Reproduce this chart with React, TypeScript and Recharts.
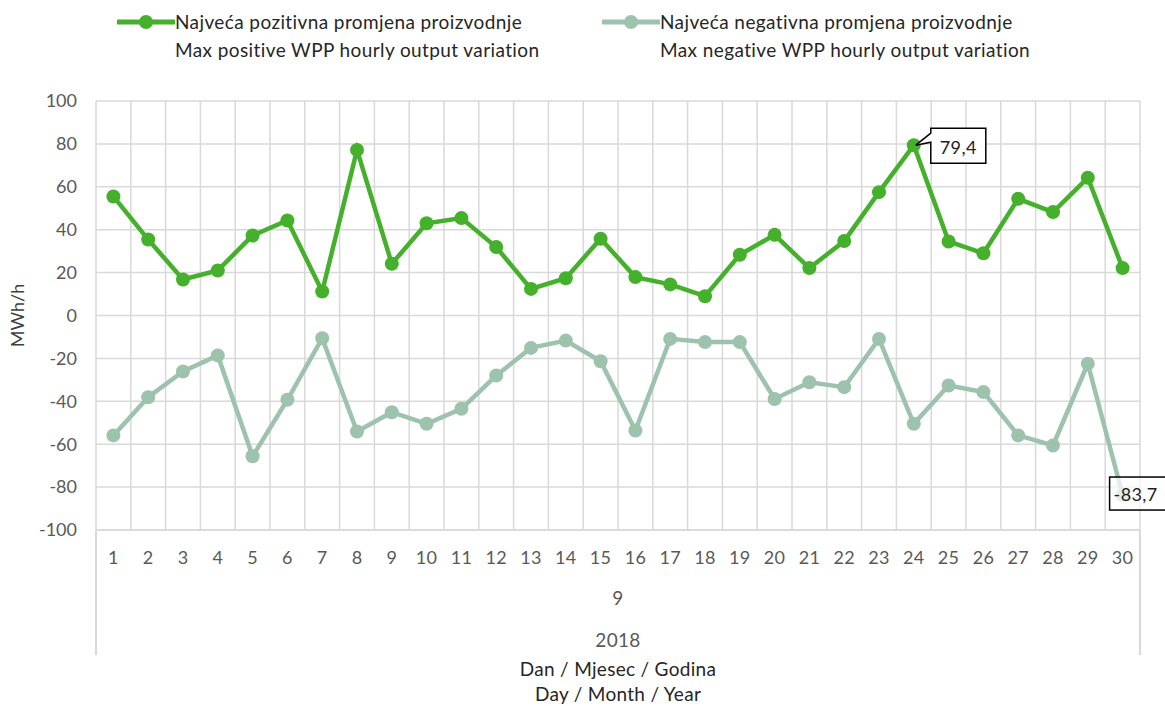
import { LineChart, Line, XAxis, YAxis, CartesianGrid, LabelList } from 'recharts'

const days = ['1', '2', '3', '4', '5', '6', '7', '8', '9', '10', '11', '12', '13', '14', '15', '16', '17', '18', '19', '20', '21', '22', '23', '24', '25', '26', '27', '28', '29', '30']
const positive = [55.5, 35.4, 16.8, 21, 37.3, 44.3, 11.2, 77.2, 24.1, 43, 45.4, 31.9, 12.4, 17.4, 35.8, 17.9, 14.5, 9, 28.3, 37.6, 22.1, 34.7, 57.5, 79.4, 34.5, 29, 54.4, 48.2, 64.2, 22.1]
const negative = [-55.9, -38.1, -26.1, -18.6, -65.6, -39.3, -10.6, -54.1, -45.1, -50.5, -43.5, -28, -15.1, -11.7, -21.3, -53.6, -10.9, -12.4, -12.4, -38.9, -31.1, -33.4, -10.9, -50.5, -32.6, -35.7, -55.9, -60.6, -22.5, -83.7]
const yTicks = [-100, -80, -60, -40, -20, 0, 20, 40, 60, 80, 100]
const month = '9'
const year = '2018'
const posName = ['Najveća pozitivna promjena proizvodnje', 'Max positive WPP hourly output variation']
const negName = ['Najveća negativna promjena proizvodnje', 'Max negative WPP hourly output variation']
const xTitle = ['Dan / Mjesec / Godina', 'Day / Month / Year']

const data = days.map((d, i) => ({ day: d, pos: positive[i], neg: negative[i] }))

const GREEN = '#45b02b'
const GREY = '#9dc2ae'
const GRID = '#d9d9d9'
const FONT = 'Lato, "Open Sans", sans-serif'
const fmt = (v: number) => String(v).replace('.', ',')

const maxIdx = positive.indexOf(Math.max(...positive))
const minIdx = negative.indexOf(Math.min(...negative))

function PeakLabel(props: any) {
  const { x, y, value, index } = props
  if (index !== maxIdx) return null
  const bx = x + 17
  const by = y - 17
  const w = 55
  const h = 35
  return (
    <g>
      <path
        d={`M${bx},${by} L${bx + w},${by} L${bx + w},${by + h} L${bx},${by + h} L${bx},${by + 14} L${x + 2},${y} L${bx},${by + 5} Z`}
        fill="#fff"
        stroke="#000"
        strokeWidth={1.5}
      />
      <text x={bx + w / 2} y={by + h / 2 + 1} textAnchor="middle" dominantBaseline="central" fontSize={18} fill="#222" letterSpacing={0.4}>
        {fmt(value)}
      </text>
    </g>
  )
}

function LowLabel(props: any) {
  const { x, y, value, index } = props
  if (index !== minIdx) return null
  const bx = x - 13
  const by = y - 18
  return (
    <g>
      <rect x={bx} y={by} width={60} height={33} fill="rgba(255,255,255,0.7)" stroke="#000" strokeWidth={1.5} />
      <text x={bx + 4} y={by + 17} dominantBaseline="central" fontSize={18} fill="#222" letterSpacing={0.4}>
        {fmt(value)}
      </text>
    </g>
  )
}

function DayTick(props: any) {
  const { x, y, payload } = props
  return (
    <text x={x} y={y + 27} textAnchor="middle" dominantBaseline="central" fontSize={18} fill="#595959" letterSpacing={0.3}>
      {payload.value}
    </text>
  )
}

function LegendItem({ color, lines, left }: { color: string; lines: string[]; left: number }) {
  return (
    <div style={{ position: 'absolute', left, top: 8, font: `19px/28px ${FONT}`, letterSpacing: 0.4, color: '#262626' }}>
      <svg width={58} height={28} style={{ position: 'absolute', left: 0, top: 0 }}>
        <line x1={1} y1={14} x2={57} y2={14} stroke={color} strokeWidth={5} strokeLinecap="round" />
        <circle cx={29} cy={14} r={7} fill={color} />
      </svg>
      <div style={{ marginLeft: 58, whiteSpace: 'nowrap' }}>
        {lines.map((l) => (
          <div key={l}>{l}</div>
        ))}
      </div>
    </div>
  )
}

export default function App() {
  const textBase = { position: 'absolute' as const, left: 96, width: 1044, textAlign: 'center' as const, font: `19px ${FONT}`, letterSpacing: 0.3, color: '#595959' }
  return (
    <div style={{ position: 'absolute', left: 0, top: 0, width: 1165, height: 706, background: '#fff', fontFamily: FONT }}>
      <LegendItem color={GREEN} lines={posName} left={117} />
      <LegendItem color={GREY} lines={negName} left={602} />

      <div style={{ position: 'absolute', top: 0, left: 0 }}>
        <LineChart
          width={1165}
          height={706}
          data={data}
          margin={{ top: 101, right: 25, bottom: 0, left: 0 }}
          style={{ fontFamily: FONT }}
        >
          <CartesianGrid
            stroke={GRID}
            strokeWidth={1.5}
            verticalCoordinatesGenerator={({ offset }: any) =>
              days.concat(['']).map((_, i) => offset.left + (i * offset.width) / days.length)
            }
          />
          <XAxis
            dataKey="day"
            scale="band"
            height={176}
            tickLine={false}
            tickSize={0}
            tickMargin={0}
            axisLine={{ stroke: GRID, strokeWidth: 1.5 }}
            tick={<DayTick />}
            interval={0}
          />
          <YAxis
            width={96}
            domain={[-100, 100]}
            ticks={yTicks}
            tickLine={false}
            axisLine={false}
            tickSize={0}
            tickMargin={19}
            tick={{ fontSize: 18, fill: '#595959' }}
            label={{ value: 'MWh/h', angle: -90, position: 'insideLeft', offset: 18, style: { textAnchor: 'middle', fontSize: 18, fill: '#404040' } }}
          />
          <Line dataKey="pos" stroke={GREEN} strokeWidth={4.5} dot={{ r: 7, fill: GREEN, stroke: GREEN, strokeWidth: 0 }} isAnimationActive={false}>
            <LabelList dataKey="pos" content={<PeakLabel />} />
          </Line>
          <Line dataKey="neg" stroke={GREY} strokeWidth={4.5} dot={{ r: 7, fill: GREY, stroke: GREY, strokeWidth: 0 }} isAnimationActive={false}>
            <LabelList dataKey="neg" content={<LowLabel />} />
          </Line>
        </LineChart>
      </div>

      <div style={{ position: 'absolute', left: 95, top: 530, width: 1.5, height: 125, background: GRID }} />
      <div style={{ position: 'absolute', left: 1139, top: 530, width: 1.5, height: 125, background: GRID }} />
      <div style={{ ...textBase, top: 586 }}>{month}</div>
      <div style={{ ...textBase, top: 628 }}>{year}</div>
      <div style={{ ...textBase, top: 657, color: '#262626' }}>{xTitle[0]}</div>
      <div style={{ ...textBase, top: 682, color: '#262626' }}>{xTitle[1]}</div>
    </div>
  )
}
